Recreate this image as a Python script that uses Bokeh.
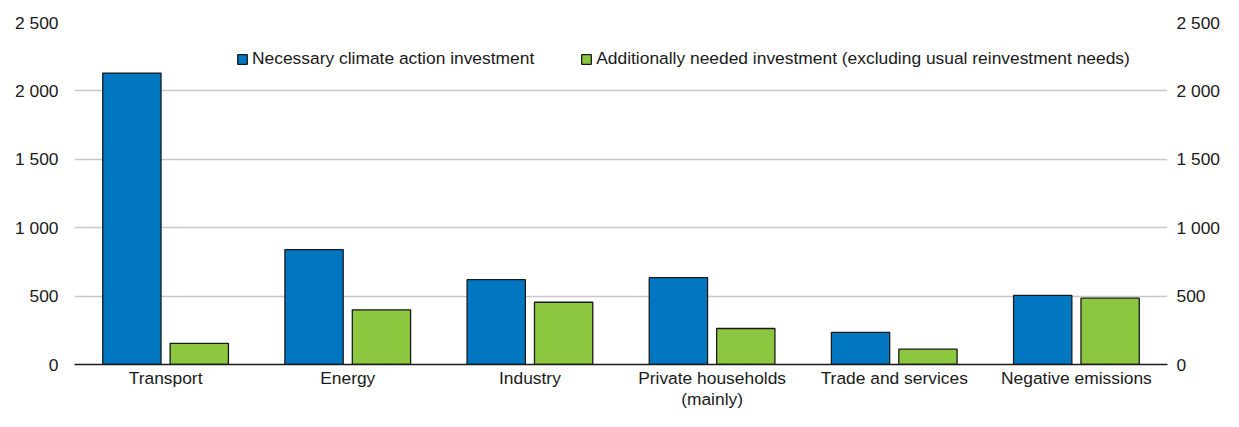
from bokeh.plotting import figure
from bokeh.models import FactorRange, Range1d, LinearAxis, FixedTicker, Legend, LegendItem, ColumnDataSource
from bokeh.transform import dodge
from bokeh.embed import file_html
from bokeh.resources import INLINE

categories = ["Transport", "Energy", "Industry", "Private households\n(mainly)", "Trade and services", "Negative emissions"]
necessary = [2130, 840, 620, 635, 235, 505]
additional = [155, 400, 455, 263, 112, 485]
series_names = ["Necessary climate action investment",
                "Additionally needed investment (excluding usual reinvestment needs)"]
y_ticks = [0, 500, 1000, 1500, 2000, 2500]
y_tick_labels = ["0", "500", "1 000", "1 500", "2 000", "2 500"]

BLUE = "#0077C0"
GREEN = "#8DC63F"
FONT = "Liberation Sans"
FS = "17.4px"

src = ColumnDataSource(dict(cat=categories, nec=necessary, add=additional))

p = figure(x_range=FactorRange(*categories, range_padding=0), y_range=Range1d(0, 2500),
           width=1223, height=411, output_backend="svg", toolbar_location=None,
           min_border_left=74, min_border_right=54, min_border_top=22, min_border_bottom=0)
p.outline_line_color = None

r1 = p.vbar(x=dodge("cat", -0.185, range=p.x_range), top="nec", width=0.32, source=src,
            fill_color=BLUE, line_color="#1a1a1a", line_width=1.3)
r2 = p.vbar(x=dodge("cat", 0.185, range=p.x_range), top="add", width=0.32, source=src,
            fill_color=GREEN, line_color="#1a1a1a", line_width=1.3)

overrides = {t: l for t, l in zip(y_ticks, y_tick_labels)}

def style_axis(ax, standoff):
    ax.major_tick_line_color = None
    ax.minor_tick_line_color = None
    ax.major_tick_out = 0
    ax.major_tick_in = 0
    ax.minor_tick_out = 0
    ax.minor_tick_in = 0
    ax.major_label_standoff = standoff
    ax.major_label_text_font = FONT
    ax.major_label_text_font_size = FS
    ax.major_label_text_color = "#1a1a1a"

ya = p.yaxis[0]
ya.ticker = FixedTicker(ticks=y_ticks)
ya.major_label_overrides = overrides
ya.axis_line_color = None
style_axis(ya, 16)

ra = LinearAxis(ticker=FixedTicker(ticks=y_ticks), major_label_overrides=overrides)
ra.axis_line_color = None
style_axis(ra, 9)
p.add_layout(ra, "right")

xa = p.xaxis[0]
xa.axis_line_color = "#1a1a1a"
xa.axis_line_width = 1.5
style_axis(xa, 3)
xa.major_label_text_line_height = 1.05

p.xgrid.grid_line_color = None
p.ygrid.ticker = FixedTicker(ticks=y_ticks)
p.ygrid.grid_line_color = "#C8C8C8"
p.ygrid.grid_line_width = 1.5

legend = Legend(items=[LegendItem(label=series_names[0], renderers=[r1]),
                       LegendItem(label=series_names[1], renderers=[r2])],
                orientation="horizontal", location=(162, 295),
                glyph_width=12, glyph_height=12, label_standoff=4, spacing=46,
                padding=0, margin=0, border_line_color=None, background_fill_alpha=0,
                label_text_font=FONT, label_text_font_size=FS, label_text_color="#1a1a1a")
p.add_layout(legend, "center")

open("out.html", "w").write(file_html(p, INLINE))
